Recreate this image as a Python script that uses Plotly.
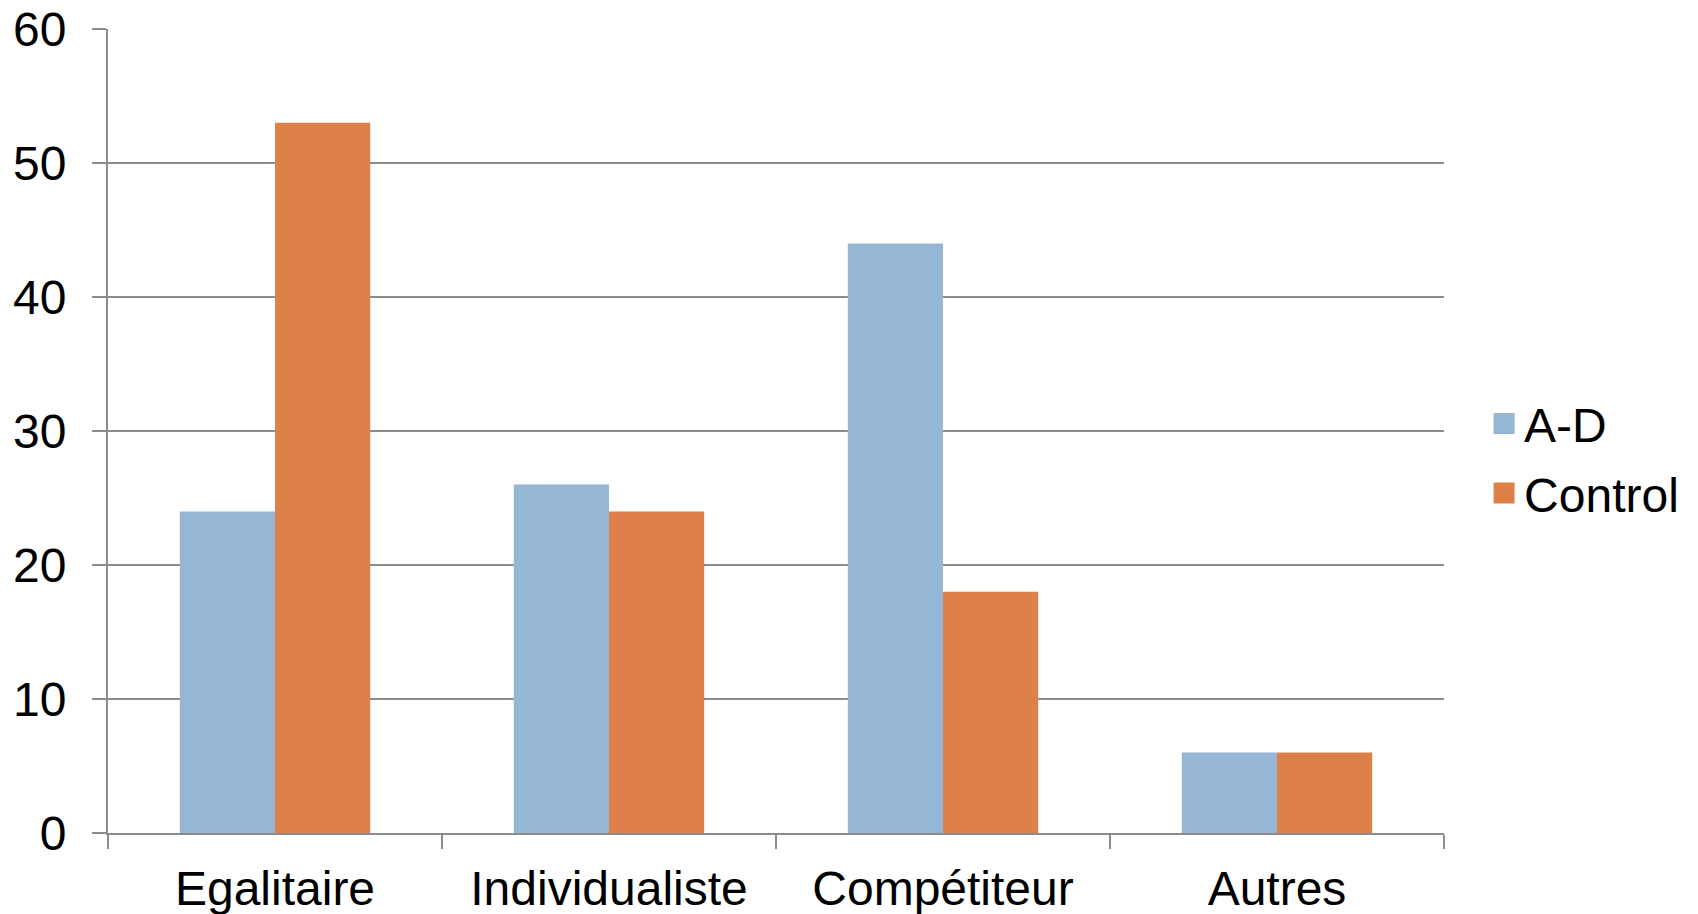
import plotly.graph_objects as go

categories = ["Egalitaire", "Individualiste", "Compétiteur", "Autres"]
series_names = ["A-D", "Control"]
ad_values = [24, 26, 44, 6]
control_values = [53, 24, 18, 6]
y_ticks = [0, 10, 20, 30, 40, 50, 60]

BLUE = "#95b6d4"
ORANGE = "#dd8049"
GRID = "#8c8c8c"
FONT = "Liberation Sans, Arial, sans-serif"
FS = 48

fig = go.Figure()
for name, vals, col in [(series_names[0], ad_values, BLUE), (series_names[1], control_values, ORANGE)]:
    fig.add_trace(go.Bar(name=name, x=categories, y=vals, marker=dict(color=col, line_width=0),
                         showlegend=False))
# legend proxies (larger square symbols)
for name, col in [(series_names[0], BLUE), (series_names[1], ORANGE)]:
    fig.add_trace(go.Scatter(name=name, x=[None], y=[None], mode="markers", legendgroup=name,
                             marker=dict(symbol="square", size=16, color=col,
                                         line=dict(color=col, width=5)),
                             showlegend=True))

fig.update_layout(
    width=1698, height=914,
    margin=dict(l=108, r=254, t=29, b=81, autoexpand=False),
    paper_bgcolor="white", plot_bgcolor="white",
    barmode="group", bargap=0.43, bargroupgap=0,
    font=dict(family=FONT, size=FS, color="black"),
    legend=dict(x=1.03, y=0.466, xanchor="left", yanchor="middle",
                font=dict(size=FS), itemwidth=30, tracegroupgap=4,
                traceorder="grouped",
                bgcolor="rgba(0,0,0,0)"),
    showlegend=True,
)
fig.update_xaxes(
    type="category", showgrid=False, showline=True, linecolor=GRID, linewidth=2,
    ticks="outside", tickson="boundaries", ticklen=14, tickcolor=GRID, tickwidth=2,
    automargin=False, tickfont=dict(size=FS), ticklabelstandoff=12,
)
fig.update_yaxes(
    range=[0, 60], tickvals=y_ticks, showgrid=True, gridcolor=GRID, gridwidth=1.5,
    showline=True, linecolor=GRID, linewidth=2, zeroline=False,
    ticks="outside", ticklen=14, tickcolor=GRID, tickwidth=2,
    automargin=False, tickfont=dict(size=FS), ticklabelstandoff=16,
)

fig.write_html("out.html")
